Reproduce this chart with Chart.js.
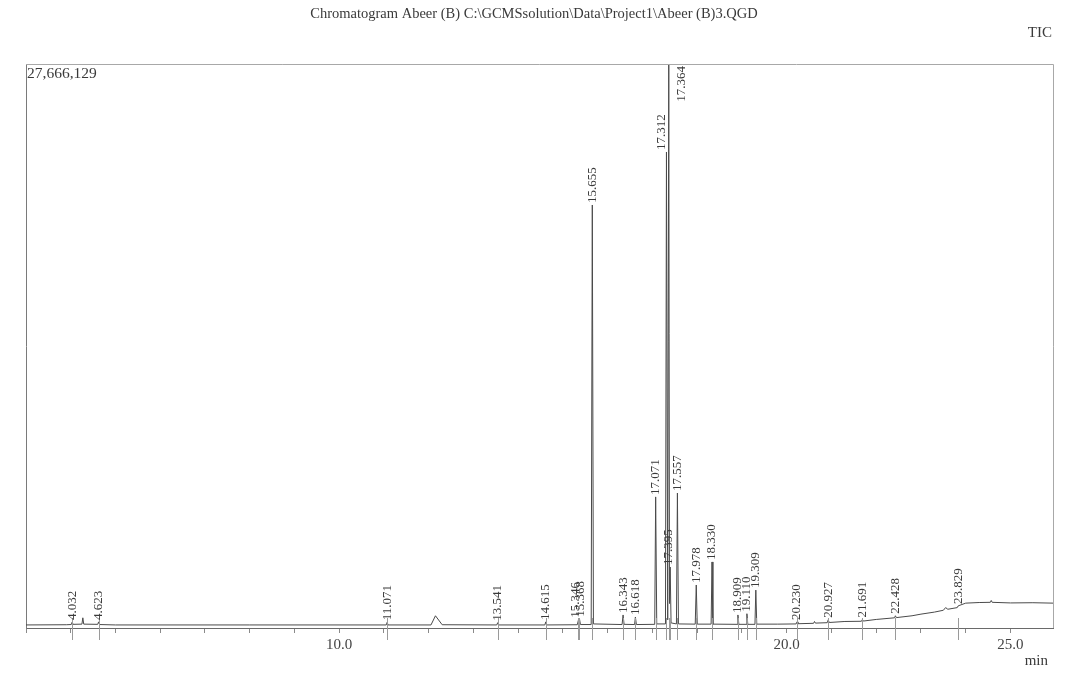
<!DOCTYPE html>
<html>
<head>
<meta charset="utf-8">
<script src="https://cdn.jsdelivr.net/npm/chart.js@4.4.1/dist/chart.umd.min.js"></script>
<style>
  html, body { margin: 0; padding: 0; background: #fff; }
  canvas { display: block; }
</style>
</head>
<body>
<canvas id="tic" width="1073" height="678"></canvas>
<script>
// TIC trace (retention time in min, intensity in counts)
const traceTime = [
  3.00, 3.90, 4.012, 4.032, 4.052, 4.25, 4.27, 4.29, 4.603, 4.623, 4.643, 5.00, 8.00,
  11.05, 11.071, 11.09, 12.05, 12.15, 12.30, 13.52, 13.541, 13.56, 14.595, 14.615, 14.635,
  15.32, 15.346, 15.357, 15.368, 15.39, 15.63, 15.655, 15.68,
  16.32, 16.343, 16.365, 16.60, 16.618, 16.64, 17.05, 17.071, 17.095,
  17.29, 17.312, 17.34, 17.364, 17.38, 17.395, 17.415, 17.535, 17.557, 17.58,
  17.955, 17.978, 18.00, 18.31, 18.330, 18.35, 18.89, 18.909, 18.93,
  19.09, 19.110, 19.13, 19.29, 19.309, 19.33, 19.80,
  20.21, 20.230, 20.25, 20.60, 20.62, 20.64, 20.905, 20.927, 20.95, 21.30,
  21.67, 21.691, 21.71, 22.00, 22.41, 22.428, 22.45, 22.80, 23.00, 23.30,
  23.50, 23.55, 23.60, 23.81, 23.829, 23.85, 24.00, 24.30, 24.55, 24.57, 24.59,
  25.00, 25.50, 25.95
];
const traceSignal = [
  150000, 160000, 170000, 290000, 180000, 190000, 500000, 190000, 180000, 300000, 170000, 150000, 150000,
  150000, 280000, 150000, 150000, 600000, 160000, 150000, 260000, 150000, 150000, 300000, 150000,
  160000, 400000, 250000, 450000, 170000, 170000, 20750000, 200000,
  170000, 640000, 180000, 170000, 540000, 170000, 180000, 6430000, 200000,
  200000, 23350000, 400000, 27666129, 1200000, 2990000, 250000, 200000, 6620000, 200000,
  190000, 2110000, 190000, 190000, 3240000, 190000, 180000, 640000, 180000,
  180000, 700000, 180000, 180000, 1860000, 190000, 190000,
  200000, 300000, 210000, 230000, 320000, 240000, 260000, 400000, 270000, 320000,
  330000, 420000, 340000, 420000, 500000, 600000, 510000, 600000, 680000, 780000,
  870000, 1000000, 920000, 1000000, 1080000, 1100000, 1220000, 1250000, 1260000, 1350000, 1260000,
  1230000, 1240000, 1220000
];

// labelled peaks (retention times)
const peakTimes = [
  4.032, 4.623, 11.071, 13.541, 14.615, 15.346, 15.368, 15.655, 16.343, 16.618,
  17.071, 17.312, 17.364, 17.395, 17.557, 17.978, 18.330, 18.909, 19.110, 19.309,
  20.230, 20.927, 21.691, 22.428, 23.829
];

// axis
const xMin = 3.0;
const xMax = 25.95;
const yMax = 27666129;
const xTickLabels = [10, 20, 25];

const titleText = 'Chromatogram Abeer (B) C:\\GCMSsolution\\Data\\Project1\\Abeer (B)3.QGD';
const serif = '"Liberation Serif", "DejaVu Serif", serif';
const ink = '#3a3a3a';

// a few labels sit beside their line to avoid overlapping
const labelNudge = { '17.312': -5, '17.364': 13, '15.346': -3, '15.368': 1, '17.395': -2 };

const annotate = {
  id: 'annotate',
  afterDatasetsDraw(chart) {
    const { ctx, chartArea: a, scales: { x, y } } = chart;
    ctx.save();

    // frame: top and right edges
    ctx.strokeStyle = '#a8a8a8';
    ctx.lineWidth = 1;
    ctx.beginPath();
    ctx.moveTo(a.left, a.top + 0.5);
    ctx.lineTo(a.right + 0.5, a.top + 0.5);
    ctx.lineTo(a.right + 0.5, a.bottom);
    ctx.stroke();

    // peak start/end marks on the baseline
    ctx.strokeStyle = '#9a9a9a';
    peakTimes.forEach(t => {
      const px = Math.round(x.getPixelForValue(t)) + 0.5;
      ctx.beginPath();
      ctx.moveTo(px, a.bottom - 10);
      ctx.lineTo(px, a.bottom + 12);
      ctx.stroke();
    });

    // peak labels, written upward from the apex
    ctx.fillStyle = ink;
    ctx.font = '13px ' + serif;
    ctx.textAlign = 'left';
    ctx.textBaseline = 'middle';
    peakTimes.forEach(t => {
      const i = traceTime.indexOf(t);
      const label = t.toFixed(3);
      const w = ctx.measureText(label).width;
      const px = x.getPixelForValue(t) + (labelNudge[label] || 0);
      let start = y.getPixelForValue(traceSignal[i]) - 2;
      if (start - w < a.top + 2) start = a.top + 2 + w;
      ctx.save();
      ctx.translate(px, start);
      ctx.rotate(-Math.PI / 2);
      ctx.fillText(label, 0, 0);
      ctx.restore();
    });

    // texts around the plot
    ctx.textBaseline = 'middle';
    ctx.font = '14.5px ' + serif;
    ctx.textAlign = 'center';
    ctx.fillText(titleText, 534, 14);
    ctx.font = '15.5px ' + serif;
    ctx.textAlign = 'left';
    ctx.fillText(yMax.toLocaleString('en-US'), a.left + 1, a.top + 10);
    ctx.font = '15px ' + serif;
    ctx.textAlign = 'right';
    ctx.fillText('TIC', a.right - 1, 33);
    ctx.fillText('min', a.right - 5, 661);
    ctx.restore();
  }
};

const ctx = document.getElementById('tic').getContext('2d');
new Chart(ctx, {
  type: 'line',
  data: {
    datasets: [{
      label: 'TIC',
      data: traceTime.map((t, i) => ({ x: t, y: traceSignal[i] })),
      borderColor: '#4a4a4a',
      borderWidth: 1,
      pointRadius: 0,
      tension: 0
    }]
  },
  options: {
    responsive: false,
    animation: false,
    layout: { padding: { left: 26, right: 20, top: 64, bottom: 0 } },
    plugins: { legend: { display: false }, tooltip: { enabled: false } },
    scales: {
      x: {
        type: 'linear',
        min: xMin,
        max: xMax,
        afterBuildTicks: s => { s.ticks = s.ticks.filter(tk => Number.isInteger(tk.value)); },
        afterFit: s => { s.height = 50; },
        ticks: {
          stepSize: 1,
          includeBounds: false,
          autoSkip: false,
          maxRotation: 0,
          padding: 3,
          color: '#444',
          font: { family: serif, size: 15 },
          callback: v => xTickLabels.includes(v) ? v.toFixed(1) : ''
        },
        grid: { drawOnChartArea: false, tickLength: 5, color: '#8a8a8a' },
        border: { color: '#6a6a6a', width: 1 }
      },
      y: {
        min: 0,
        max: yMax,
        afterFit: s => { s.width = 0; },
        ticks: { display: false },
        grid: { display: false },
        border: { color: '#7a7a7a', width: 1 }
      }
    }
  },
  plugins: [annotate]
});
</script>
</body>
</html>
